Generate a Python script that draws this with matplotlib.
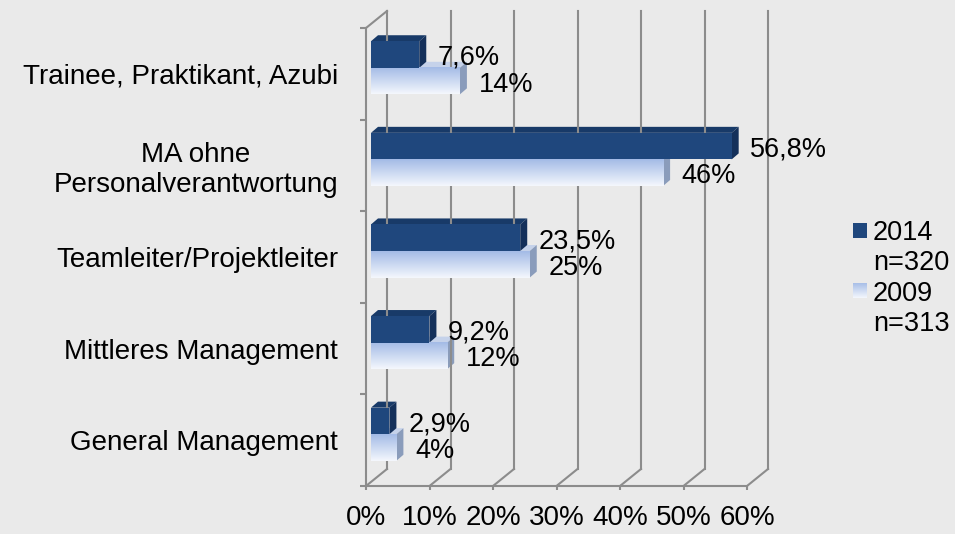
import numpy as np
import matplotlib
matplotlib.use('Agg')
import matplotlib.pyplot as plt
from matplotlib.patches import Polygon
from matplotlib.lines import Line2D
from matplotlib.transforms import offset_copy, IdentityTransform

categories = ['Trainee, Praktikant, Azubi', 'MA ohne\nPersonalverantwortung',
              'Teamleiter/Projektleiter', 'Mittleres Management', 'General Management']
share_2014 = [7.6, 56.8, 23.5, 9.2, 2.9]
share_2009 = [14, 46, 25, 12, 4]
legend_labels = ['2014\nn=320', '2009\nn=313']
xticks = [0, 10, 20, 30, 40, 50, 60]

plt.rcParams['font.family'] = ['Liberation Sans', 'DejaVu Sans']

BG = '#EAEAEA'
GRID = '#8C8C8C'
DARK = '#1F477D'
DARK_TOP = '#183A68'
DARK_SIDE = '#14305A'
LIGHT_TOP = np.array([0xA3, 0xBB, 0xE6]) / 255
LIGHT_BOT = np.array([0xF4, 0xF7, 0xFD]) / 255

fig = plt.figure(figsize=(9.55, 5.34), dpi=100, facecolor=BG)
ax = fig.add_axes([366 / 955, 1 - 486 / 534, 381 / 955, 458 / 534])
ax.set_facecolor('none')
ax.set_xlim(0, 60)
ax.set_ylim(4.5, -0.5)

# back wall and bars are shifted in display space to fake the 3d look
back = offset_copy(ax.transData, fig=fig, x=21, y=17, units='dots')
bt = offset_copy(ax.transData, fig=fig, x=5, y=6, units='dots')
depth = np.array([7, 6])
ident = IdentityTransform()


def disp(tr, x, y):
    return tr.transform((x, y))


for x in xticks:
    ax.plot([x, x], [-0.5, 4.5], color=GRID, lw=1.5, transform=back, clip_on=False)
    p0 = disp(ax.transData, x, 4.5)
    p1 = disp(back, x, 4.5)
    ax.add_line(Line2D([p0[0], p1[0]], [p0[1], p1[1]], color=GRID, lw=1.5,
                       transform=ident, clip_on=False))
p0 = disp(ax.transData, 0, -0.5)
p1 = disp(back, 0, -0.5)
ax.add_line(Line2D([p0[0], p1[0]], [p0[1], p1[1]], color=GRID, lw=1.5,
                   transform=ident, clip_on=False))

h = 0.29
grad = np.linspace(LIGHT_TOP, LIGHT_BOT, 64)[:, None, :]
pos = np.arange(len(categories))


def faces(v, c, top_col, side_col):
    tl = disp(bt, 0, c - h / 2)
    tr_ = disp(bt, v, c - h / 2)
    br = disp(bt, v, c + h / 2)
    ax.add_patch(Polygon([tl, tr_, tr_ + depth, tl + depth], closed=True,
                         facecolor=top_col, edgecolor='none', transform=ident, clip_on=False))
    ax.add_patch(Polygon([tr_, br, br + depth, tr_ + depth], closed=True,
                         facecolor=side_col, edgecolor='none', transform=ident, clip_on=False))


# 2009 first, the 2014 bar hides its top face
for c, v in zip(pos + h / 2, share_2009):
    faces(v, c, '#C5D2EA', '#8A9CBB')
    ax.imshow(grad, extent=(0, v, c + h / 2, c - h / 2), transform=bt,
              aspect='auto', interpolation='bilinear', zorder=2, clip_on=False)
    ax.annotate(f'{v:.0f}%', (v, c), xycoords=bt, xytext=(13.5, -2.5),
                textcoords='offset points', ha='left', va='center', fontsize=19.5)

for c, v in zip(pos - h / 2, share_2014):
    faces(v, c, DARK_TOP, DARK_SIDE)
    ax.barh(c, v, height=h, color=DARK, transform=bt, zorder=3, clip_on=False)
    ax.annotate(f'{v:.1f}%'.replace('.', ','), (v, c), xycoords=bt, xytext=(13.5, -2.5),
                textcoords='offset points', ha='left', va='center', fontsize=19.5)

ax.set_xlim(0, 60)
ax.set_ylim(4.5, -0.5)

for s in ['top', 'right']:
    ax.spines[s].set_visible(False)
for s in ['left', 'bottom']:
    ax.spines[s].set_color(GRID)
    ax.spines[s].set_linewidth(1.5)

ax.set_xticks(xticks, [f'{x}%' for x in xticks])
ax.tick_params(axis='x', length=3, width=1.5, color=GRID, labelsize=20, pad=11)
ax.set_yticks(pos, categories)
ax.set_yticks(np.arange(-0.5, 5), minor=True)
ax.tick_params(axis='y', which='major', length=0, labelsize=20, pad=20)
ax.tick_params(axis='y', which='minor', length=4.5, width=1.5, color=GRID)
for t in ax.get_yticklabels():
    t.set_multialignment('center')

# legend
lax = fig.add_axes([853 / 955, 1 - 238 / 534, 14 / 955, 15 / 534])
lax.imshow(np.full((2, 1, 3), np.array([0x1F, 0x47, 0x7D]) / 255), aspect='auto')
lax.axis('off')
lax2 = fig.add_axes([853 / 955, 1 - 298 / 534, 14 / 955, 15 / 534])
lax2.imshow(grad, aspect='auto', interpolation='bilinear')
lax2.axis('off')
fig.text(873 / 955, 1 - 248.5 / 534, legend_labels[0], va='center', ha='left', fontsize=19.5)
fig.text(873 / 955, 1 - 309 / 534, legend_labels[1], va='center', ha='left', fontsize=19.5)

fig.savefig('out.png', dpi=100, facecolor=BG)
